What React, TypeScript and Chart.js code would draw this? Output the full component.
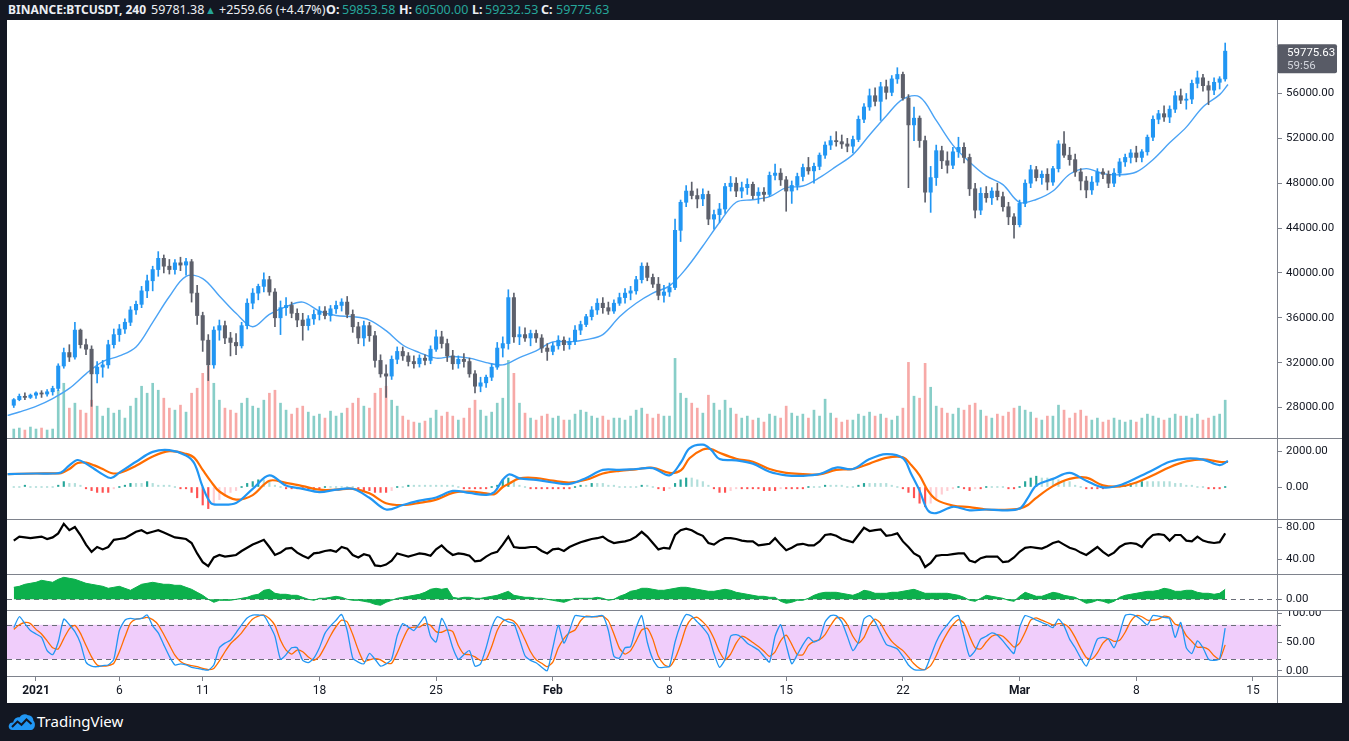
import React, { useEffect, useRef } from "react";
import { Chart, registerables } from "chart.js";

Chart.register(...registerables);

// ---------------- DATA ----------------
// 8-hour candles, BINANCE:BTCUSDT. Time in days since 2021-01-01 00:00.
const CANDLE_START_DAY = -4 / 3; // 2020-12-30 16:00
const CANDLE_STEP_DAYS = 1 / 3; // 8 hours

// [open, high, low, close]
const CANDLES: [number, number, number, number][] = [
  [28200, 28800, 28000, 28700], [28700, 29200, 28600, 29000], [29000, 29300, 28700, 28900],
  [28900, 29200, 28800, 29100], [29100, 29400, 28800, 29300], [29300, 29500, 28900, 29200],
  [29200, 29600, 29000, 29400], [29400, 29900, 29100, 29700], [29700, 31900, 29500, 31700],
  [31700, 33300, 31500, 32900], [32900, 33600, 32100, 32500], [32500, 35600, 32300, 34900],
  [34900, 35000, 33300, 33600], [33600, 34100, 32700, 33200], [33200, 33500, 28100, 31000],
  [31000, 32100, 30200, 31600], [31600, 32200, 30700, 31800], [31800, 34000, 31500, 33600],
  [33600, 35000, 33300, 34500], [34500, 35400, 33900, 35000], [35000, 35900, 34600, 35600],
  [35600, 37000, 35300, 36700], [36700, 37500, 36300, 37200], [37200, 38800, 36900, 38400],
  [38400, 39800, 37800, 39300], [39300, 40600, 38400, 40300], [40300, 41900, 39700, 41300],
  [41300, 41600, 40000, 40600], [40600, 41200, 39900, 40300], [40300, 41200, 39900, 40900],
  [40900, 41400, 40200, 40700], [40700, 41300, 39800, 41000], [41000, 41200, 37400, 38200],
  [38200, 38900, 35400, 36200], [36200, 36500, 33000, 34000], [34000, 34500, 30400, 31800],
  [31800, 35200, 31500, 34900], [34900, 35800, 34000, 35300], [35300, 35700, 33700, 34200],
  [34200, 34700, 32600, 33800], [33800, 34600, 32700, 33500], [33500, 35600, 33300, 35300],
  [35300, 37700, 35000, 37300], [37300, 38600, 36800, 38200], [38200, 39000, 37600, 38800],
  [38800, 40000, 38300, 39400], [39400, 39700, 38000, 38300], [38300, 38600, 35200, 36000],
  [36000, 37500, 34500, 36900], [36900, 37800, 36200, 37100], [37100, 37400, 36000, 36400],
  [36400, 36800, 35200, 35800], [35800, 36400, 34000, 35300], [35300, 36200, 34900, 35900],
  [35900, 36700, 35400, 36300], [36300, 37000, 35800, 36600], [36600, 37000, 35900, 36200],
  [36200, 37100, 35700, 36800], [36800, 37500, 36400, 37100], [37100, 37700, 36600, 37400],
  [37400, 37900, 36000, 36300], [36300, 36700, 34700, 35200], [35200, 35600, 33700, 34200],
  [34200, 35700, 33500, 35300], [35300, 35600, 33900, 34400], [34400, 34800, 31600, 32200],
  [32200, 32700, 30700, 31000], [31000, 31800, 28900, 30800], [30800, 32600, 30500, 32300],
  [32300, 33400, 31900, 33000], [33000, 33400, 32200, 32600], [32600, 32900, 31700, 32100],
  [32100, 32600, 31500, 31900], [31900, 32700, 31600, 32400], [32400, 32700, 31800, 32200],
  [32200, 33500, 31900, 33200], [33200, 34900, 33000, 34300], [34300, 34800, 33300, 33700],
  [33700, 34100, 32100, 32600], [32600, 33100, 31400, 31900], [31900, 32600, 31500, 32300],
  [32300, 32800, 31600, 32100], [32100, 32400, 30700, 31000], [31000, 31300, 29300, 29900],
  [29900, 30700, 29400, 30200], [30200, 30900, 29800, 30700], [30700, 31900, 30400, 31600],
  [31600, 33800, 31400, 33300], [33300, 34300, 32500, 33700], [33700, 38500, 33200, 37800],
  [37800, 38200, 33800, 34300], [34300, 35200, 33600, 34500], [34500, 35100, 33900, 34200],
  [34200, 34900, 33500, 34600], [34600, 34900, 33800, 34200], [34200, 34500, 32900, 33300],
  [33300, 33700, 32200, 33000], [33000, 33800, 32700, 33500], [33500, 34400, 33200, 34000],
  [34000, 34300, 33100, 33600], [33600, 34200, 33200, 33900], [33900, 35300, 33600, 34900],
  [34900, 35700, 34500, 35400], [35400, 36300, 35200, 36100], [36100, 37000, 35800, 36700],
  [36700, 37700, 36300, 37300], [37300, 37800, 36400, 36900], [36900, 37400, 36300, 36600],
  [36600, 37600, 36400, 37300], [37300, 38200, 37100, 37800], [37800, 38600, 37300, 38200],
  [38200, 38800, 37600, 38400], [38400, 39700, 38100, 39400], [39400, 40900, 39100, 40600],
  [40600, 40900, 39300, 39600], [39600, 39900, 38700, 39000], [39000, 39600, 37600, 38000],
  [38000, 38900, 37400, 38300], [38300, 39100, 37900, 38700], [38700, 44800, 38500, 43800],
  [43800, 46500, 42800, 46300], [46300, 47800, 45900, 47300], [47300, 48100, 46600, 46900],
  [46900, 47500, 45800, 46600], [46600, 47500, 46000, 47000], [47000, 47300, 44300, 44800],
  [44800, 45600, 43900, 45200], [45200, 46200, 44500, 45700], [45700, 48000, 45300, 47700],
  [47700, 48600, 47300, 48000], [48000, 48500, 46800, 47300], [47300, 48100, 46700, 47600],
  [47600, 48400, 47000, 47900], [47900, 48100, 46600, 46900], [46900, 47600, 46200, 47200],
  [47200, 47600, 46400, 47000], [47000, 49000, 46800, 48700], [48700, 49700, 48300, 48900],
  [48900, 49300, 47800, 48300], [48300, 48600, 45500, 47300], [47300, 48200, 46200, 47800],
  [47800, 48900, 47400, 48600], [48600, 49700, 48200, 49400], [49400, 50300, 48800, 49100],
  [49100, 49800, 48000, 49500], [49500, 50700, 49200, 50500], [50500, 51700, 50200, 51400],
  [51400, 52200, 51000, 51800], [51800, 52600, 51300, 51700], [51700, 52300, 51100, 51500],
  [51500, 52000, 50800, 51300], [51300, 52200, 50700, 51900], [51900, 54000, 51700, 53700],
  [53700, 55100, 53400, 54800], [54800, 56400, 54500, 55800], [55800, 56500, 54900, 55300],
  [55300, 57000, 53600, 56600], [56600, 57200, 55500, 56100], [56100, 57600, 55800, 57300],
  [57300, 58300, 56900, 57700], [57700, 57900, 55400, 55600], [55600, 55900, 47600, 53200],
  [53200, 54800, 51800, 53800], [53800, 54000, 51200, 51800], [51800, 52200, 46300, 47200],
  [47200, 49500, 45400, 48500], [48500, 51400, 47800, 50900], [50900, 51300, 49300, 50000],
  [50000, 50800, 48900, 49600], [49600, 51200, 49300, 50800], [50800, 52100, 50300, 51200],
  [51200, 51600, 49800, 50300], [50300, 50600, 46900, 47500], [47500, 48000, 44900, 45600],
  [45600, 47600, 45200, 47100], [47100, 47700, 46300, 46700], [46700, 47600, 46100, 47300],
  [47300, 48000, 46500, 46800], [46800, 47200, 45500, 45900], [45900, 46300, 44300, 45000],
  [45000, 45300, 43100, 44300], [44300, 46500, 44100, 46200], [46200, 48300, 45900, 48000],
  [48000, 49600, 47600, 49200], [49200, 49500, 48200, 48500], [48500, 49100, 47900, 48800],
  [48800, 49300, 47400, 48100], [48100, 49500, 47800, 49300], [49300, 51800, 49000, 51500],
  [51500, 52600, 50300, 50500], [50500, 51200, 49600, 50100], [50100, 50600, 48600, 49000],
  [49000, 49300, 47400, 48200], [48200, 48600, 46700, 47400], [47400, 48600, 47000, 48100],
  [48100, 49300, 47800, 49000], [49000, 49300, 48400, 48800], [48800, 49100, 47600, 48000],
  [48000, 49300, 47700, 48900], [48900, 50200, 48600, 49900], [49900, 50600, 49500, 50300],
  [50300, 51000, 49800, 50700], [50700, 51300, 49900, 50300], [50300, 51000, 49900, 50800],
  [50800, 52300, 50500, 52100], [52100, 54000, 51800, 53700], [53700, 54500, 53300, 54200],
  [54200, 54900, 53500, 53900], [53900, 54900, 53400, 54600], [54600, 56200, 54300, 55800],
  [55800, 56400, 55100, 55400], [55400, 56000, 54600, 55500], [55500, 57200, 55100, 56900],
  [56900, 58000, 56500, 57400], [57400, 57700, 56200, 56700], [56700, 57100, 55000, 56300],
  [56300, 57400, 55900, 57000], [57000, 57500, 56400, 57300], [57300, 60500, 57100, 59775.63],
];

// volume per candle (thousand BTC)
const VOLUME = [
  9, 10, 8, 11, 9, 10, 8, 9, 48, 55, 30, 35, 28, 25, 38, 32, 22, 30, 25, 28, 20,
  32, 40, 52, 45, 55, 48, 40, 30, 28, 33, 26, 45, 50, 65, 72, 55, 38, 30, 28, 25, 35,
  40, 32, 30, 38, 45, 48, 35, 28, 24, 30, 32, 26, 22, 24, 20, 27, 22, 25, 30, 35, 40,
  32, 30, 45, 50, 52, 38, 32, 22, 18, 16, 15, 17, 20, 28, 22, 26, 22, 18, 20, 30, 38,
  28, 22, 26, 35, 40, 78, 65, 35, 25, 20, 18, 22, 24, 20, 22, 18, 18, 24, 28, 26, 22,
  20, 22, 18, 20, 20, 18, 22, 28, 30, 24, 20, 24, 22, 22, 80, 45, 40, 35, 30, 25, 43,
  35, 28, 38, 30, 24, 20, 22, 18, 20, 16, 24, 22, 20, 32, 25, 22, 24, 20, 28, 22, 39,
  25, 20, 16, 18, 18, 24, 22, 26, 22, 24, 20, 18, 22, 30, 76, 42, 40, 75, 51, 32, 30,
  25, 24, 30, 28, 33, 35, 28, 22, 20, 24, 22, 26, 30, 32, 28, 26, 20, 18, 22, 22, 33,
  28, 20, 25, 28, 22, 18, 20, 16, 18, 20, 18, 16, 18, 16, 20, 24, 22, 20, 18, 20, 24,
  22, 22, 20, 24, 18, 20, 22, 24, 38,
];

// SMA overlay [day, price]
const SMA_POINTS: [number, number][] = [
  [-1.7, 27300], [-1, 27600], [0, 28100], [1, 28800], [2, 29700], [3, 31000], [4, 32100],
  [5, 32600], [6, 33400], [7, 35600], [8, 37900], [9, 39700], [10, 39500], [11, 37950],
  [12, 36400], [13, 35200], [14, 36300], [15, 37000], [16, 37400], [17, 36600], [18, 36200],
  [19, 36100], [20, 35800], [21, 34850], [22, 33570], [23, 32900], [24, 32400], [25, 32550],
  [26, 32400], [27, 32000], [28, 31800], [29, 32450], [30, 33050], [31, 33850], [32, 33850],
  [33, 34050], [34, 34500], [35, 36100], [36, 37300], [37, 38200], [38, 38850], [39, 40400],
  [40, 42400], [41, 44500], [42, 46300], [43, 46530], [44, 46800], [45, 47600], [46, 47750],
  [47, 48500], [48, 49500], [49, 50550], [50, 52300], [51, 54000], [52, 55500], [53, 55700],
  [54, 53600], [55, 51400], [56, 49900], [57, 48650], [58, 47870], [59, 46300], [60, 46550],
  [61, 47300], [62, 48800], [63, 49300], [64, 48850], [65, 48750], [66, 49000], [67, 50100],
  [68, 51600], [69, 53000], [70, 54800], [71, 55900], [71.5, 56800],
];

// MACD [day, macd, signal]
const MACD_POINTS: [number, number, number][] = [
  [-1.7, 720, 720], [0, 750, 750], [1, 750, 760], [1.5, 800, 770], [2, 1200, 1000],
  [2.5, 1500, 1330], [3, 1300, 1350], [3.5, 1000, 1200], [4, 700, 1000], [4.5, 500, 780],
  [5, 800, 780], [6, 1400, 1180], [7, 1950, 1700], [8, 2050, 1990], [9, 1750, 1840],
  [9.5, 1300, 1620], [10, 0, 950], [10.5, -900, 300], [11, -980, -250], [12, -890, -700],
  [13, -100, -450], [14, 650, 350], [15, 80, 230], [16, -100, 50], [17, -280, -150],
  [18, -150, -150], [19, -100, -100], [20, -600, -350], [21, -1250, -900], [22, -1000, -1000],
  [23, -760, -880], [24, -580, -700], [25, -220, -330], [26, -330, -250], [27, -440, -350],
  [27.5, -280, -400], [28, 400, 0], [28.4, 700, 200], [29, 480, 480], [30, 400, 500],
  [31, 250, 350], [32, 170, 250], [33, 500, 400], [34, 950, 750], [35, 950, 900],
  [36, 1000, 980], [37, 1050, 1070], [38, 650, 780], [38.7, 1390, 940], [39.2, 2150, 1600],
  [40, 2350, 2080], [40.5, 2060, 2110], [41, 1550, 1900], [42, 1480, 1570], [43, 1300, 1400],
  [44, 850, 1000], [45, 650, 780], [46, 620, 720], [47, 720, 700], [48, 1080, 950],
  [49, 1000, 1000], [50, 1550, 1300], [51, 1830, 1620], [52, 1600, 1650], [52.5, 720, 1220],
  [53, -200, 650], [53.5, -1300, -200], [54, -1450, -700], [55, -1100, -1030],
  [56, -1300, -1120], [57, -1250, -1250], [58, -1300, -1270], [59, -1200, -1200],
  [59.5, -600, -1000], [60, 80, -600], [61, 450, 50], [62, 780, 450], [63, 350, 520],
  [64, -20, 90], [65, 100, 30], [66, 500, 250], [67, 950, 650], [68, 1400, 1100],
  [69, 1580, 1420], [70, 1520, 1540], [71, 1220, 1400], [71.5, 1440, 1390],
];

// MACD histogram per candle (hundreds)
const HIST_HUNDREDS = [
  0, 0, 1, 0, 0, 0, 0, 0, 1, 3, 2, 2, 1, -1, -2, -3, -3, -3, -1, 0, 1, 2, 2, 2, 3, 2, 1, 1,
  1, 0, -1, -1, -3, -6, -10, -12, -9, -7, -5, -3, -2, 0, 2, 3, 4, 4, 3, 1, 0, -1, -1, -1,
  -1, -1, -1, -1, 0, 0, 0, 0, 0, 0, -1, -2, -2, -3, -3, -3, -2, 0, 0, 1, 1, 1, 1, 1, 1, 1,
  1, 1, 0, -1, -1, -1, -1, -1, 0, 1, 4, 5, 3, 1, 0, -1, -1, -1, -1, -1, -1, -1, -1, 0, 1,
  1, 2, 2, 2, 1, 1, 0, 0, 0, 0, 1, 1, 0, -1, -2, -1, 2, 4, 5, 5, 4, 3, 1, -1, -3, -3, -2,
  -1, -1, -1, -1, -1, -2, -2, -2, -1, -1, -1, -1, -1, 0, 0, 0, 1, 1, 1, 1, 0, 0, 1, 2, 2,
  2, 2, 2, 1, 0, -1, -3, -6, -9, -11, -9, -7, -4, -2, -1, 0, -1, -2, -1, -1, 0, 0, 0, 0,
  -1, -1, 0, 3, 5, 6, 5, 5, 4, 4, 3, 3, 1, 0, -1, -1, -1, -1, 0, 0, 0, 1, 2, 2, 3, 3, 3,
  3, 3, 3, 2, 2, 1, 1, 0, 0, -1, -1, -1, 0,
];

// RSI per candle
const RSI = [
  63, 68, 67, 66, 67, 68, 65, 67, 72, 84, 76, 80, 70, 58, 49, 55, 52, 55, 64, 65,
  66, 70, 74, 76, 72, 74, 76, 73, 70, 67, 66, 65, 60, 47, 36, 31, 42, 45, 43, 44,
  45, 50, 54, 58, 61, 64, 55, 45, 48, 53, 54, 48, 44, 41, 47, 48, 50, 51, 49, 55,
  53, 45, 42, 46, 44, 32, 31, 33, 38, 47, 45, 43, 45, 47, 46, 44, 52, 57, 50, 45,
  47, 46, 44, 37, 38, 43, 47, 49, 58, 68, 55, 54, 54, 55, 55, 50, 47, 52, 53, 50,
  55, 58, 61, 63, 65, 66, 68, 63, 60, 61, 62, 64, 68, 74, 68, 60, 52, 54, 53, 70,
  76, 78, 76, 72, 69, 60, 58, 63, 66, 66, 65, 63, 62, 62, 57, 58, 59, 66, 58, 51,
  54, 58, 59, 57, 57, 62, 70, 71, 69, 65, 63, 61, 70, 79, 75, 76, 77, 69, 70, 72,
  62, 55, 47, 43, 30, 35, 44, 45, 45, 46, 47, 47, 38, 36, 41, 43, 43, 43, 36, 37,
  42, 49, 54, 55, 54, 53, 56, 60, 62, 58, 54, 52, 48, 45, 50, 55, 49, 44, 48, 55,
  59, 60, 59, 55, 64, 70, 71, 70, 63, 70, 70, 63, 62, 68, 63, 61, 60, 61, 72,
];

// green oscillator per candle
const OSC = [
  12, 13, 15, 16, 17, 19, 18, 17, 20, 22, 21, 20, 18, 16, 15, 14, 13, 11, 12, 13,
  11, 9, 12, 15, 16, 17, 16, 15, 15, 14, 14, 12, 10, 7, 4, 0, -3, -1, -1, -1,
  0, 1, 2, 4, 5, 9, 10, 6, 5, 5, 4, 4, 2, 0, -1, 1, 1, 2, 3, 2,
  0, -1, -1, -2, -3, -5, -6, -3, -1, 1, 2, 3, 4, 5, 7, 10, 11, 10, 11, 2,
  1, 2, 2, 1, 1, 2, 3, 4, 6, 8, 4, 3, 2, 2, 1, 1, 0, -1, -2, -3,
  -1, 1, 1, 1, 1, 2, 1, -1, 0, 3, 5, 8, 9, 11, 11, 10, 9, 9, 10, 11,
  12, 12, 11, 10, 9, 8, 8, 9, 10, 9, 7, 6, 5, 4, 3, 3, 2, 2, -2, -4,
  -3, -1, -1, 1, 4, 6, 7, 7, 7, 6, 5, 4, 6, 9, 8, 6, 6, 6, 7, 7,
  8, 9, 10, 8, 6, 6, 6, 6, 6, 5, 4, 2, -1, -2, 1, 4, 3, 2, 1, -1,
  -2, 3, 7, 5, 3, 3, 5, 7, 6, 4, 3, 2, -1, -4, -3, -1, -2, -4, -2, 2,
  4, 5, 6, 7, 8, 8, 9, 11, 10, 8, 8, 9, 9, 7, 6, 6, 5, 6, 10,
];

// Stoch RSI %K and %D per candle
const STOCH_K = [
  75, 94, 82, 70, 64, 58, 35, 28, 50, 90, 80, 68, 48, 15, 8, 7, 9, 10, 20, 70,
  88, 91, 90, 91, 97, 78, 66, 45, 25, 10, 12, 10, 6, 4, 2, 1, 10, 40, 48, 53,
  66, 80, 92, 97, 97, 96, 80, 60, 20, 28, 40, 40, 18, 14, 22, 40, 65, 78, 88, 98,
  70, 22, 15, 12, 30, 20, 8, 12, 20, 61, 82, 76, 70, 82, 94, 60, 50, 91, 72, 40,
  20, 28, 35, 8, 12, 40, 75, 94, 90, 85, 82, 55, 26, 18, 14, 6, 0, 40, 79, 48,
  70, 96, 95, 94, 94, 95, 96, 70, 25, 22, 40, 42, 75, 96, 50, 20, 6, 6, 8, 50,
  80, 98, 95, 85, 75, 62, 30, 6, 20, 60, 63, 58, 48, 42, 36, 25, 15, 60, 80, 45,
  12, 28, 45, 58, 50, 55, 85, 96, 96, 85, 60, 35, 50, 90, 96, 85, 65, 46, 42, 38,
  25, 10, 2, 1, 2, 25, 50, 68, 80, 92, 96, 60, 25, 35, 55, 60, 66, 62, 52, 40,
  30, 75, 96, 93, 88, 84, 80, 75, 90, 78, 55, 40, 22, 8, 30, 55, 58, 55, 40, 65,
  96, 98, 95, 88, 80, 96, 95, 93, 91, 58, 84, 40, 30, 52, 40, 20, 18, 21, 74,
];
const STOCH_D = [
  72, 80, 84, 82, 72, 64, 52, 40, 38, 56, 73, 79, 65, 44, 24, 10, 8, 9, 13, 33,
  59, 83, 90, 91, 93, 89, 80, 63, 45, 27, 16, 11, 9, 7, 4, 2, 4, 17, 33, 47,
  56, 66, 79, 90, 95, 97, 91, 79, 53, 36, 29, 36, 33, 24, 18, 25, 42, 61, 77, 88,
  85, 63, 36, 16, 19, 21, 19, 13, 13, 31, 54, 73, 76, 76, 82, 79, 68, 67, 71, 68,
  44, 29, 28, 24, 18, 20, 42, 70, 86, 90, 86, 74, 54, 33, 19, 13, 7, 15, 40, 56,
  66, 71, 87, 95, 94, 94, 95, 87, 64, 39, 29, 35, 52, 71, 74, 55, 25, 11, 7, 21,
  46, 76, 91, 93, 85, 74, 56, 33, 19, 29, 48, 60, 56, 49, 42, 34, 25, 33, 52, 62,
  46, 28, 28, 44, 51, 54, 63, 79, 92, 92, 80, 60, 48, 58, 79, 90, 82, 65, 51, 42,
  35, 24, 12, 4, 2, 9, 26, 48, 66, 80, 89, 83, 60, 40, 38, 50, 60, 63, 60, 51,
  41, 48, 67, 88, 92, 88, 84, 80, 82, 81, 74, 58, 39, 23, 20, 31, 48, 56, 51, 53,
  67, 86, 96, 94, 88, 88, 90, 95, 93, 81, 78, 61, 51, 41, 41, 37, 26, 20, 45,
];

// axes
const TIME_TICK_DAYS = [0, 5, 10, 17, 24, 31, 38, 45, 52, 59, 66, 73];
const TIME_TICK_LABELS = ["2021", "6", "11", "18", "25", "Feb", "8", "15", "22", "Mar", "8", "15"];
const BOLD_TIME_LABELS = ["2021", "Feb", "Mar"];
const PRICE_TICKS = [28000, 32000, 36000, 40000, 44000, 48000, 52000, 56000];
const MACD_TICKS = [0, 2000];
const RSI_TICKS = [40, 80];
const OSC_TICKS = [0];
const STOCH_TICKS = [0, 50, 100];

// header texts: [text, left px, kind]
const HEADER: [string, number, "sym" | "bold" | "plain" | "up" | "value"][] = [
  ["BINANCE:BTCUSDT, 240", 8, "sym"],
  ["59781.38", 151, "plain"],
  ["▲", 205, "up"],
  ["+2559.66 (+4.47%)", 219, "plain"],
  ["O:", 326, "bold"],
  ["59853.58", 342, "value"],
  ["H:", 399, "bold"],
  ["60500.00", 415, "value"],
  ["L:", 472, "bold"],
  ["59232.53", 485, "value"],
  ["C:", 541, "bold"],
  ["59775.63", 556, "value"],
];
const COUNTDOWN = "59:56";

// ---------------- STYLE ----------------
const BG = "#131722";
const AXIS = "#7e828c";
const TXT = "#131722";
const FONT = "Roboto, 'Open Sans', sans-serif";
const UP = "#2196f3";
const DOWN = "#5d606b";
const VOL_UP = "rgba(38,166,154,0.55)";
const VOL_DOWN = "rgba(239,83,80,0.5)";
const W = 1335;
const AXIS_W = 65;

const candleTimes = CANDLES.map((_, i) => CANDLE_START_DAY + i * CANDLE_STEP_DAYS);

function guides(opts: { band?: [number, number]; bandColor?: string; lines?: number[] }) {
  return {
    id: "guides",
    beforeDatasetsDraw(chart: any) {
      const { ctx, chartArea, scales } = chart;
      const y = scales.y;
      ctx.save();
      if (opts.band) {
        const a = y.getPixelForValue(opts.band[1]);
        const b = y.getPixelForValue(opts.band[0]);
        ctx.fillStyle = opts.bandColor;
        ctx.fillRect(chartArea.left, a, chartArea.right - chartArea.left, b - a);
      }
      ctx.strokeStyle = "#6a6d78";
      ctx.lineWidth = 1;
      ctx.setLineDash([5, 4]);
      for (const v of opts.lines || []) {
        const p = Math.round(y.getPixelForValue(v)) + 0.5;
        ctx.beginPath();
        ctx.moveTo(chartArea.left, p);
        ctx.lineTo(chartArea.right + 4, p);
        ctx.stroke();
      }
      ctx.restore();
    },
  };
}

const lastPrice = {
  id: "lastPrice",
  afterDraw(chart: any) {
    const { ctx, chartArea, scales } = chart;
    const last = CANDLES[CANDLES.length - 1][3];
    const y = scales.y.getPixelForValue(last);
    const x0 = chartArea.right;
    ctx.save();
    ctx.fillStyle = "#585b66";
    ctx.beginPath();
    (ctx as any).roundRect(x0, y - 7, 60, 29, 2);
    ctx.fill();
    ctx.textBaseline = "middle";
    ctx.font = `11.5px ${FONT}`;
    ctx.fillStyle = "#ffffff";
    ctx.fillText(last.toFixed(2), x0 + 10, y + 2);
    ctx.fillStyle = "#d1d4dc";
    ctx.fillText(COUNTDOWN, x0 + 10, y + 15);
    ctx.restore();
  },
};

function makeOptions(yMin: number, yMax: number, yTicks: number[], showX: boolean, extraScales: any = {}) {
  return {
    responsive: false,
    animation: false as const,
    events: [] as any[],
    layout: { padding: 0 },
    plugins: { legend: { display: false }, tooltip: { enabled: false } },
    scales: {
      x: {
        type: "linear",
        min: -1.7395,
        max: 74.441,
        offset: false,
        display: showX,
        afterBuildTicks: (s: any) => {
          s.ticks = TIME_TICK_DAYS.map((v) => ({ value: v }));
        },
        afterFit: (s: any) => {
          if (showX) s.height = 27;
          s.paddingLeft = 0;
          s.paddingRight = 0;
        },
        grid: { offset: false, drawOnChartArea: false, drawTicks: true, tickLength: 5, color: AXIS },
        border: { display: false },
        ticks: {
          autoSkip: false,
          maxRotation: 0,
          padding: 3,
          color: TXT,
          font: (ctx: any) => ({
            family: FONT,
            size: 12,
            weight: ctx.tick && BOLD_TIME_LABELS.includes(ctx.tick.label) ? "bold" : "normal",
          }),
          callback: (v: any) => TIME_TICK_LABELS[TIME_TICK_DAYS.indexOf(Number(v))],
        },
      },
      y: {
        type: "linear",
        position: "right",
        min: yMin,
        max: yMax,
        afterBuildTicks: (s: any) => {
          s.ticks = yTicks.map((v) => ({ value: v }));
        },
        afterFit: (s: any) => {
          s.width = AXIS_W;
          s.paddingTop = 0;
          s.paddingBottom = 0;
        },
        grid: { drawOnChartArea: false, drawTicks: true, tickLength: 5, color: AXIS },
        border: { display: false },
        ticks: {
          padding: 4,
          color: TXT,
          font: { family: FONT, size: 11.5 },
          callback: (v: any) => Number(v).toFixed(2),
        },
      },
      ...extraScales,
    },
  };
}

export default function App() {
  const mainRef = useRef<HTMLCanvasElement>(null);
  const macdRef = useRef<HTMLCanvasElement>(null);
  const rsiRef = useRef<HTMLCanvasElement>(null);
  const oscRef = useRef<HTMLCanvasElement>(null);
  const stochRef = useRef<HTMLCanvasElement>(null);

  useEffect(() => {
    document.body.style.margin = "0";
    const charts: Chart[] = [];
    const up = CANDLES.map((c) => c[3] >= c[0]);

    // main price chart
    charts.push(
      new Chart(mainRef.current!, {
        type: "line",
        data: {
          datasets: [
            {
              type: "bar",
              data: CANDLES.map((c, i) => ({ x: candleTimes[i], y: [c[0], c[3]] })) as any,
              backgroundColor: up.map((u) => (u ? UP : DOWN)),
              barThickness: 3.4,
              minBarLength: 1,
              grouped: false,
              borderWidth: 0,
              order: 0,
            } as any,
            {
              type: "bar",
              data: CANDLES.map((c, i) => ({ x: candleTimes[i], y: [c[2], c[1]] })) as any,
              backgroundColor: up.map((u) => (u ? UP : DOWN)),
              barThickness: 1,
              grouped: false,
              borderWidth: 0,
              order: 1,
            } as any,
            {
              type: "line",
              data: SMA_POINTS.map(([x, y]) => ({ x, y })),
              borderColor: "#4aa3f5",
              borderWidth: 1.4,
              pointRadius: 0,
              tension: 0.35,
              order: 2,
            } as any,
            {
              type: "bar",
              yAxisID: "yv",
              data: VOLUME.map((v, i) => ({ x: candleTimes[i], y: v })) as any,
              backgroundColor: up.map((u) => (u ? VOL_UP : VOL_DOWN)),
              barThickness: 2,
              grouped: false,
              borderWidth: 0,
              order: 3,
            } as any,
          ],
        },
        options: makeOptions(25280, 62554, PRICE_TICKS, false, {
          yv: { type: "linear", display: false, min: 0, max: 420 },
        }) as any,
        plugins: [lastPrice],
      })
    );

    // MACD
    const hist = HIST_HUNDREDS.map((h) => h * 100);
    const histColors = hist.map((h, i) => {
      const prev = i > 0 ? hist[i - 1] : 0;
      if (h >= 0) return prev < h ? "#26a69a" : "#b2dfdb";
      return prev < h ? "#ffcdd2" : "#ff5252";
    });
    charts.push(
      new Chart(macdRef.current!, {
        type: "line",
        data: {
          datasets: [
            {
              type: "line",
              data: MACD_POINTS.map(([x, m]) => ({ x, y: m })),
              borderColor: "#2196f3",
              borderWidth: 2.2,
              pointRadius: 0,
              tension: 0.35,
              order: 0,
            } as any,
            {
              type: "line",
              data: MACD_POINTS.map(([x, , s]) => ({ x, y: s })),
              borderColor: "#ff6d00",
              borderWidth: 2.2,
              pointRadius: 0,
              tension: 0.35,
              order: 1,
            } as any,
            {
              type: "bar",
              data: hist.map((h, i) => ({ x: candleTimes[i], y: h })) as any,
              backgroundColor: histColors,
              barThickness: 1.5,
              minBarLength: 1,
              grouped: false,
              borderWidth: 0,
              order: 2,
            } as any,
          ],
        },
        options: makeOptions(-1778, 2667, MACD_TICKS, false) as any,
      })
    );

    // RSI
    charts.push(
      new Chart(rsiRef.current!, {
        type: "line",
        data: {
          datasets: [
            {
              data: RSI.map((v, i) => ({ x: candleTimes[i], y: v })),
              borderColor: "#000000",
              borderWidth: 2.2,
              pointRadius: 0,
              tension: 0,
            },
          ],
        },
        options: makeOptions(21.25, 88.75, RSI_TICKS, false) as any,
      })
    );

    // green oscillator
    charts.push(
      new Chart(oscRef.current!, {
        type: "line",
        data: {
          datasets: [
            {
              data: OSC.map((v, i) => ({ x: candleTimes[i], y: v })),
              borderColor: "#0cb04c",
              backgroundColor: "#0cb04c",
              borderWidth: 1,
              pointRadius: 0,
              fill: "origin",
              tension: 0,
            },
          ],
        },
        options: makeOptions(-10.7, 24.3, OSC_TICKS, false) as any,
        plugins: [guides({ lines: [0] })],
      })
    );

    // Stoch RSI
    charts.push(
      new Chart(stochRef.current!, {
        type: "line",
        data: {
          datasets: [
            {
              data: STOCH_K.map((v, i) => ({ x: candleTimes[i], y: v })),
              borderColor: "#2196f3",
              borderWidth: 1.3,
              pointRadius: 0,
              tension: 0.2,
            },
            {
              data: STOCH_D.map((v, i) => ({ x: candleTimes[i], y: v })),
              borderColor: "#ff6d00",
              borderWidth: 1.3,
              pointRadius: 0,
              tension: 0.2,
            },
          ],
        },
        options: makeOptions(-9.2, 104, STOCH_TICKS, true) as any,
        plugins: [guides({ band: [20, 80], bandColor: "#f0cdfb", lines: [20, 80] })],
      })
    );

    return () => charts.forEach((c) => c.destroy());
  }, []);

  const canvasStyle = (top: number, h: number): React.CSSProperties => ({
    position: "absolute",
    left: 7,
    top,
    width: W,
    height: h,
  });
  const hLine = (top: number): React.CSSProperties => ({
    position: "absolute",
    left: 7,
    top,
    width: W,
    height: 1,
    background: AXIS,
    zIndex: 2,
  });
  const headerStyle = (left: number, kind: string): React.CSSProperties => ({
    position: "absolute",
    left,
    top: 0,
    height: 20,
    lineHeight: "19px",
    whiteSpace: "nowrap",
    fontFamily: "'Noto Sans', 'Open Sans', sans-serif",
    fontSize: kind === "up" ? 11 : kind === "sym" ? 12 : 12.5,
    fontWeight: kind === "bold" || kind === "sym" ? 700 : 400,
    color: kind === "up" || kind === "value" ? "#26a69a" : "#eceef3",
  });

  return (
    <div
      style={{
        position: "fixed",
        left: 0,
        top: 0,
        width: 1349,
        height: 741,
        background: BG,
        overflow: "hidden",
        fontFamily: FONT,
      }}
    >
      {HEADER.map(([t, left, kind], i) => (
        <span key={i} style={headerStyle(left, kind)}>
          {t}
        </span>
      ))}

      <div style={{ position: "absolute", left: 7, top: 20, width: W, height: 683, background: "#ffffff" }} />

      <canvas ref={mainRef} width={W} height={418} style={canvasStyle(20, 418)} />
      <canvas ref={macdRef} width={W} height={80} style={canvasStyle(439, 80)} />
      <canvas ref={rsiRef} width={W} height={54} style={canvasStyle(520, 54)} />
      <canvas ref={oscRef} width={W} height={35} style={canvasStyle(575, 35)} />
      <canvas ref={stochRef} width={W} height={92} style={canvasStyle(611, 92)} />

      <div style={hLine(438)} />
      <div style={hLine(519)} />
      <div style={hLine(574)} />
      <div style={hLine(610)} />
      <div style={hLine(676)} />
      <div style={{ position: "absolute", left: 1277, top: 20, width: 1, height: 683, background: AXIS, zIndex: 2 }} />

      <div style={{ position: "absolute", left: 8, top: 711, display: "flex", alignItems: "center" }}>
        <svg width="27" height="19" viewBox="0 0 27 19">
          <path
            d="M4.5 18 C1.5 18 0 15.5 1 13 C1.8 11 3.6 10.3 5.2 10.6 C5.6 7 8.4 4.8 11.6 5.2 C13.4 2.4 17.2 1.4 20 3.2 C23 3.2 25.6 5.6 25.4 8.8 C27.4 10.4 27.4 14.8 25.4 16.8 C24.8 17.6 24 18 23 18 Z"
            fill="#2196f3"
          />
          <path d="M4 15 L9.5 9.5 L13.5 12.8 L18.5 7.5 L23.5 12" stroke={BG} strokeWidth="2" fill="none" />
        </svg>
        <span style={{ color: "#ffffff", fontSize: 15, marginLeft: 2, fontFamily: "'Noto Sans', sans-serif" }}>
          TradingView
        </span>
      </div>
    </div>
  );
}
